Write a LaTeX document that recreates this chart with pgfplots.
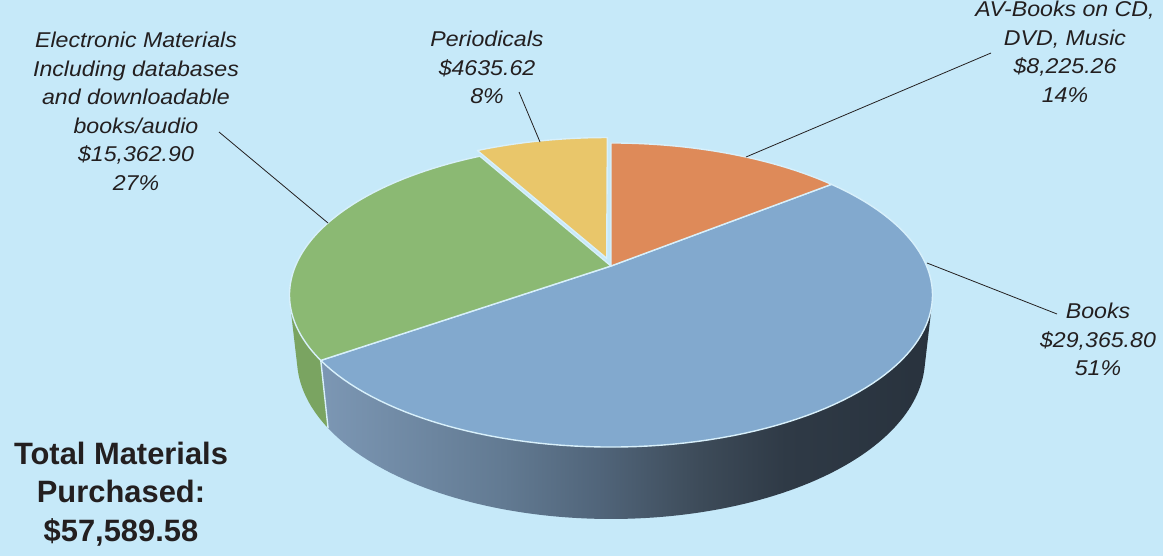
\documentclass[border=0pt]{standalone}
\usepackage{pgfplots}
\pgfplotsset{compat=1.18}
\usepackage{pgfplotstable}
\usepackage{fontspec}
\setmainfont{Liberation Sans}[FakeStretch=1.08]
\newfontfamily\totalfont{Liberation Sans}

\definecolor{bg}{HTML}{C6E9F9}
\definecolor{cBlue}{HTML}{82A9CE}
\definecolor{cGreen}{HTML}{8BB973}
\definecolor{cOrange}{HTML}{DE8A59}
\definecolor{cYellow}{HTML}{E9C66A}
\definecolor{cGreenWall}{HTML}{7AA461}
\definecolor{sep}{HTML}{D8F0FB}
\definecolor{txt}{HTML}{231F20}
\definecolor{wA}{HTML}{7C97B4}
\definecolor{wB}{HTML}{627A92}
\definecolor{wC}{HTML}{506479}
\definecolor{wD}{HTML}{3D4B59}
\definecolor{wE}{HTML}{2F3A46}
\definecolor{wF}{HTML}{28323D}
\pgfdeclarehorizontalshading{bluewall}{100bp}{color(0bp)=(wA); color(25bp)=(wA); color(40bp)=(wB); color(48bp)=(wC); color(56bp)=(wD); color(63bp)=(wE); color(75bp)=(wF); color(100bp)=(wF)}

% ---- data ----
\pgfplotstableread{
item value
AV 8225.26
Books 29365.80
Electronic 15362.90
Periodicals 4635.62
}\piedata
\pgfplotstablegetelem{0}{value}\of\piedata \let\vAV\pgfplotsretval
\pgfplotstablegetelem{1}{value}\of\piedata \let\vBooks\pgfplotsretval
\pgfplotstablegetelem{2}{value}\of\piedata \let\vElec\pgfplotsretval
\pgfplotstablegetelem{3}{value}\of\piedata \let\vPer\pgfplotsretval

\pgfkeys{/pgf/fpu=true,/pgf/fpu/output format=fixed}
\pgfmathsetmacro\vTot{\vAV+\vBooks+\vElec+\vPer}
\pgfmathsetmacro\aA{90-360*\vAV/\vTot}
\pgfmathsetmacro\aB{\aA-360*\vBooks/\vTot}
\pgfmathsetmacro\aC{\aB-360*\vElec/\vTot}
\pgfmathsetmacro\aD{\aC-360*\vPer/\vTot}
\pgfmathsetmacro\aM{(\aC+\aD)/2}
\pgfmathsetmacro\exX{0.055*cos(\aM)}
\pgfmathsetmacro\exZ{0.055*sin(\aM)}
\pgfkeys{/pgf/fpu/output format=float,/pgf/fpu=false}

% perspective projection of a point of the pie (r, angle, height, offset x, offset depth)
\pgfmathdeclarefunction{pjX}{5}{\pgfmathparse{611+1465*((#4)+(#1)*cos(#2))/(4.642-(#3)*0.4642+((#5)+(#1)*sin(#2))*0.8857)}}
\pgfmathdeclarefunction{pjY}{5}{\pgfmathparse{266-1465*((#3)*0.8857+((#5)+(#1)*sin(#2))*0.4642)/(4.642-(#3)*0.4642+((#5)+(#1)*sin(#2))*0.8857)}}

\newcommand{\pieslice}[5]{%
\addplot[fill=#1, draw=sep, line width=1.4pt, line join=round, domain=0:1.1, samples=111, variable=\s]
 ({pjX(min(\s/0.1,1), (#2)+((#3)-(#2))*max(\s-0.1,0), 0, #4, #5)},
  {pjY(min(\s/0.1,1), (#2)+((#3)-(#2))*max(\s-0.1,0), 0, #4, #5)}) -- cycle;}

\newcommand{\piewall}[3]{%
\addplot[#1, draw=none, domain=0:2.1, samples=211, variable=\s]
 ({pjX(1, (#2)+((#3)-(#2))*(min(\s,1)-max(\s-1.1,0)), -0.229*min(max((\s-1)/0.1,0),1), 0, 0)},
  {pjY(1, (#2)+((#3)-(#2))*(min(\s,1)-max(\s-1.1,0)), -0.229*min(max((\s-1)/0.1,0),1), 0, 0)}) -- cycle;}

\newcommand{\labelfont}{\fontsize{21.5}{28.6}\selectfont\itshape}

\begin{document}
\begin{tikzpicture}
\begin{axis}[name=ax, width=1163bp, height=556bp, scale only axis,
  xmin=0, xmax=1163, ymin=0, ymax=556, y dir=reverse,
  hide axis, clip=false]
\fill[bg] (rel axis cs:0,0) rectangle (rel axis cs:1,1);

% side walls
\piewall{fill=cGreenWall}{-165.92}{\aB}
\piewall{shade, shading=bluewall}{\aB}{-14.08}
\addplot[sep, line width=1.4pt, domain=0:1, samples=2, variable=\s]
 ({pjX(1,\aB,-0.229*\s,0,0)},{pjY(1,\aB,-0.229*\s,0,0)});

% top faces
\pieslice{cBlue}{\aB}{\aA}{0}{0}
\pieslice{cGreen}{\aC}{\aB}{0}{0}
\pieslice{cOrange}{\aA}{90}{0}{0}
\pieslice{cYellow}{\aD}{\aC}{\exX}{\exZ}

% leader lines
\addplot[txt, line width=0.8pt] coordinates {(219,132) (328,223)};
\addplot[txt, line width=0.8pt] coordinates {(519,92) (540,142)};
\addplot[txt, line width=0.8pt] coordinates {(991,53) (746,157)};
\addplot[txt, line width=0.8pt] coordinates {(1057,314) (927,263)};

% labels
\node[anchor=north, align=center, inner sep=0pt, text=txt, font=\labelfont] at (axis cs:136,32)
 {Electronic Materials\\Including databases\\and downloadable\\books/audio\\\$15,362.90\\27\%};
\node[anchor=north, align=center, inner sep=0pt, text=txt, font=\labelfont] at (axis cs:487,31)
 {Periodicals\\\$4635.62\\8\%};
\node[anchor=north, align=center, inner sep=0pt, text=txt, font=\labelfont] at (axis cs:1065,1)
 {AV-Books on CD,\\DVD, Music\\\$8,225.26\\14\%};
\node[anchor=north, align=center, inner sep=0pt, text=txt, font=\labelfont] at (axis cs:1098,303)
 {Books\\\$29,365.80\\51\%};
\node[anchor=north, align=center, inner sep=0pt, text=txt, font={\totalfont\fontsize{31}{38.5}\selectfont\bfseries}] at (axis cs:121,442)
 {Total Materials\\Purchased:\\\$57,589.58};
\end{axis}
\pgfresetboundingbox
\path (ax.south west) rectangle (ax.north east);
\end{tikzpicture}
\end{document}
